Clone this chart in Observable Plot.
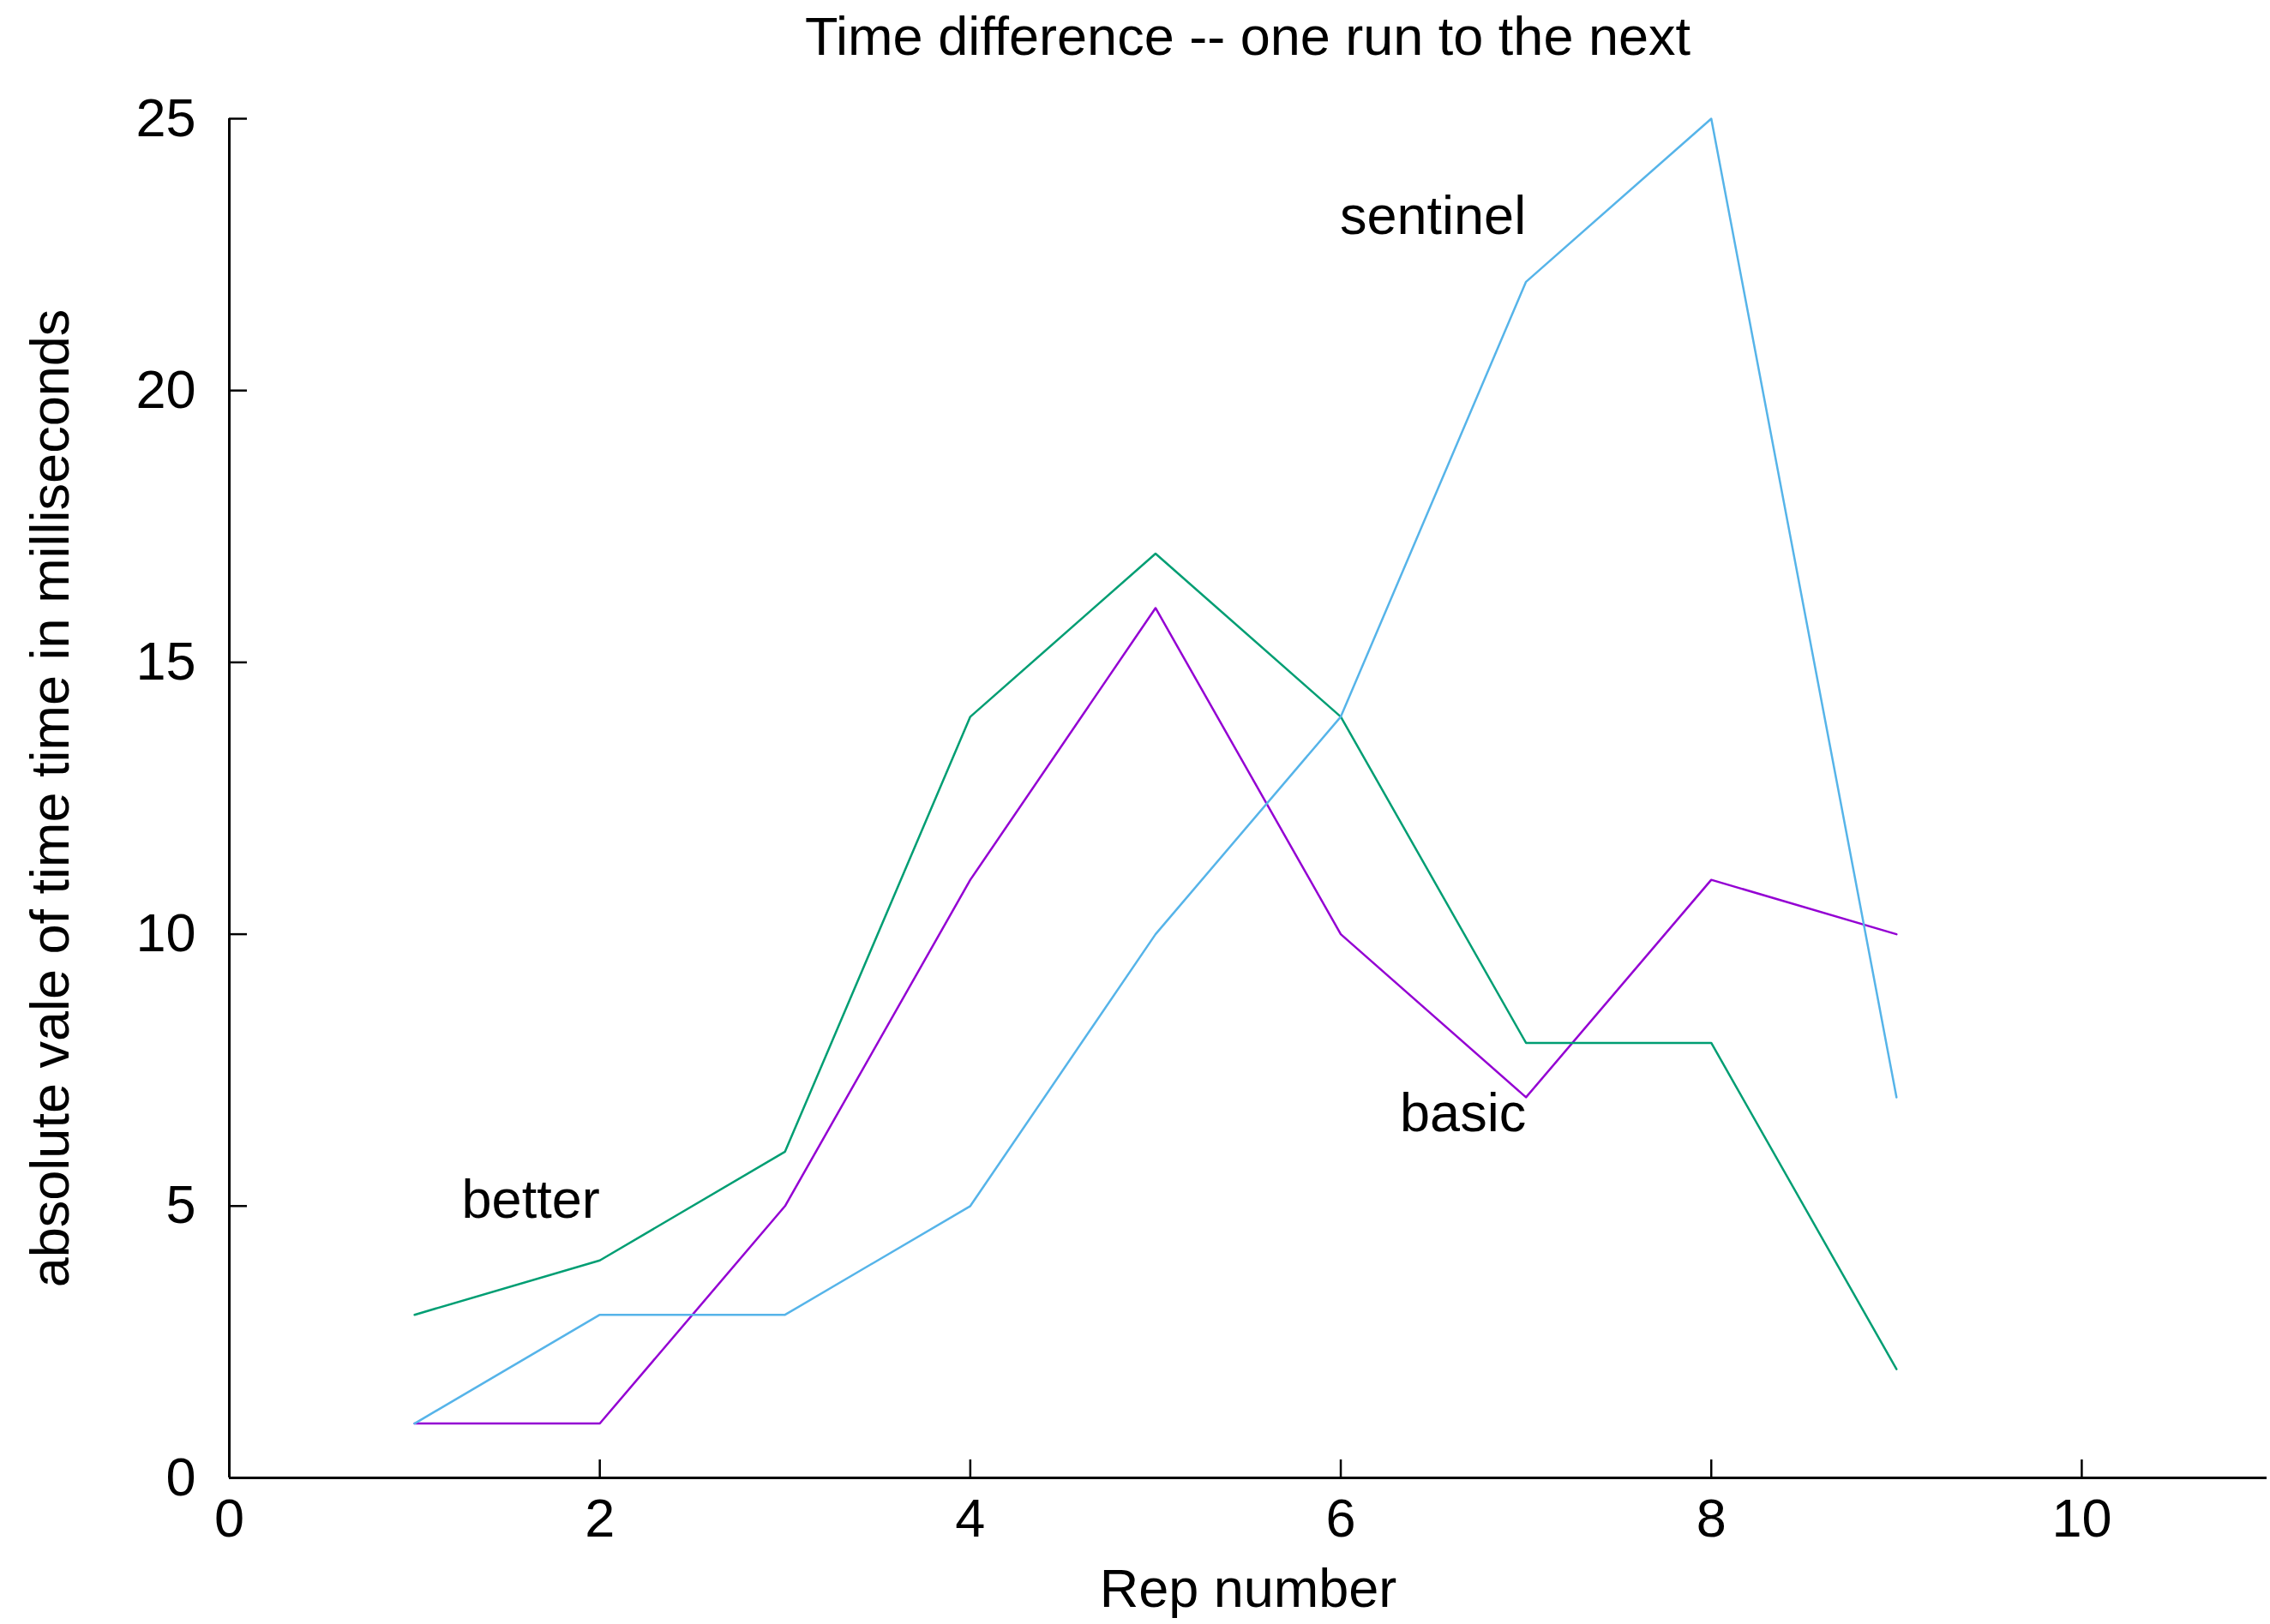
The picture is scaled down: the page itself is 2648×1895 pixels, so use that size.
<!DOCTYPE html>
<html>
<head>
<meta charset="utf-8">
<script src="https://cdn.jsdelivr.net/npm/d3@7"></script>
<script src="https://cdn.jsdelivr.net/npm/@observablehq/plot@0.6"></script>
<style>
  html, body { margin: 0; padding: 0; background: #fff; }
  #title { width: 2648px; box-sizing: border-box; padding-left: 267px; padding-right: 4px;
           height: 84px; line-height: 84px; text-align: center;
           font-family: "Liberation Sans", Arial, sans-serif; font-size: 63px; color: #000; }
  svg { display: block; }
</style>
</head>
<body>
<div id="title">Time difference -- one run to the next</div>
<div id="chart"></div>
<script>
// ---- data ----
const reps = [1, 2, 3, 4, 5, 6, 7, 8, 9];
const basic    = [1, 1, 5, 11, 16, 10, 7, 11, 10];
const better   = [3, 4, 6, 14, 17, 14, 8, 8, 2];
const sentinel = [1, 3, 3, 5, 10, 14, 22, 25, 7];
const seriesNames = ["basic", "better", "sentinel"];
const seriesColors = ["#9400d3", "#009e73", "#56b4e9"];
const labelNames = ["better", "basic", "sentinel"];
const labelX = [2, 7, 7];
const labelY = [5.1, 6.7, 23.2];
const xTicks = [0, 2, 4, 6, 8, 10];
const yTicks = [0, 5, 10, 15, 20, 25];
const xTitle = "Rep number";
const yTitle = "absolute vale of time time in milliseconds";

const seriesValues = [basic, better, sentinel];
const rows = [];
seriesNames.forEach((name, i) => reps.forEach((r, j) => rows.push({rep: r, value: seriesValues[i][j], series: name})));
const labels = labelNames.map((n, i) => ({name: n, x: labelX[i], y: labelY[i]}));

const chart = Plot.plot({
  width: 2648,
  height: 1811,
  marginTop: 54,
  marginBottom: 171,
  marginLeft: 267,
  marginRight: 4,
  style: {fontFamily: "Liberation Sans, Arial, sans-serif", fontSize: "63px", color: "#000", background: "#fff"},
  x: {domain: [0, 11]},
  y: {domain: [0, 25]},
  color: {domain: seriesNames, range: seriesColors},
  marks: [
    Plot.axisX({ticks: xTicks, tickSize: -21, tickPadding: 45, strokeWidth: 2.5, label: xTitle, labelAnchor: "center", labelOffset: 150, labelArrow: "none", fontSize: 63}),
    Plot.axisY({ticks: yTicks, tickSize: -21, tickPadding: 60, strokeWidth: 2.5, label: yTitle, labelAnchor: "center", labelOffset: 232, labelArrow: "none", fontSize: 63}),
    Plot.ruleX([0], {strokeWidth: 3}),
    Plot.ruleY([0], {strokeWidth: 3}),
    Plot.line(rows, {x: "rep", y: "value", z: "series", stroke: "series", strokeWidth: 2.5}),
    Plot.text(labels, {x: "x", y: "y", text: "name", textAnchor: "end", fontSize: 63, fill: "#000"})
  ]
});
document.getElementById("chart").appendChild(chart);
</script>
</body>
</html>
